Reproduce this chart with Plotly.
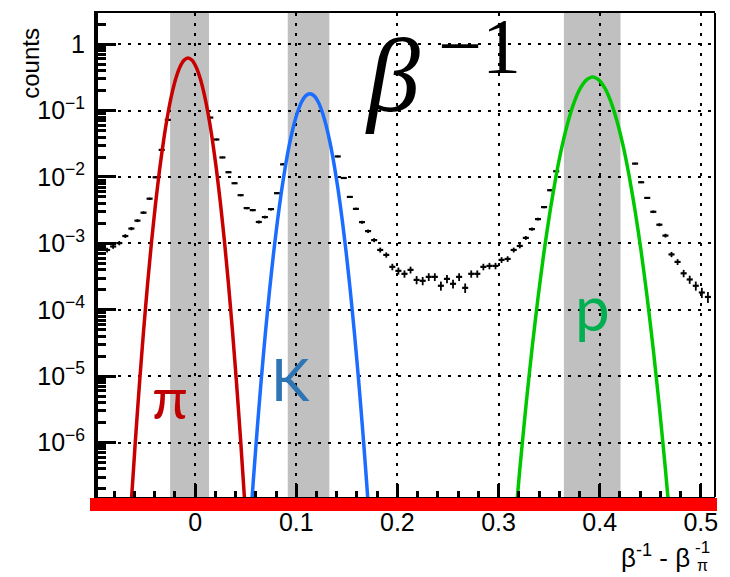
import plotly.graph_objects as go

# ---------------- data ----------------
# Gaussian fit curves
pi_fit_x = [-0.063, -0.059, -0.055, -0.051, -0.047, -0.043, -0.039, -0.035, -0.031, -0.027,
            -0.023, -0.019, -0.015, -0.011, -0.007, -0.003, 0.001, 0.005, 0.009, 0.013,
            0.017, 0.021, 0.025, 0.029, 0.033, 0.037, 0.041, 0.045, 0.049]
pi_fit_y = [1.31e-7, 1.09e-6, 7.71e-6, 4.69e-5, 2.43e-4, 1.08e-3, 4.09e-3, 1.33e-2, 3.68e-2, 8.73e-2,
            0.177, 0.306, 0.453, 0.573, 0.62, 0.573, 0.453, 0.306, 0.177, 8.73e-2,
            3.68e-2, 1.33e-2, 4.09e-3, 1.08e-3, 2.43e-4, 4.69e-5, 7.71e-6, 1.09e-6, 1.31e-7]

k_fit_x = [0.0535, 0.0575, 0.0615, 0.0655, 0.0695, 0.0735, 0.0775, 0.0815, 0.0855, 0.0895,
           0.0935, 0.0975, 0.1015, 0.1055, 0.1095, 0.1135, 0.1175, 0.1215, 0.1255, 0.1295,
           0.1335, 0.1375, 0.1415, 0.1455, 0.1495, 0.1535, 0.1575, 0.1615, 0.1655, 0.1695, 0.1735]
k_fit_y = [3.57e-8, 2.61e-7, 1.66e-6, 9.25e-6, 4.48e-5, 1.89e-4, 6.95e-4, 2.23e-3, 6.24e-3, 1.524e-2,
           3.24e-2, 6.00e-2, 9.70e-2, 0.137, 0.168, 0.180, 0.168, 0.137, 9.70e-2, 6.00e-2,
           3.24e-2, 1.524e-2, 6.24e-3, 2.23e-3, 6.95e-4, 1.89e-4, 4.48e-5, 9.25e-6, 1.66e-6, 2.61e-7, 3.57e-8]

p_fit_x = [0.315, 0.321, 0.327, 0.333, 0.339, 0.345, 0.351, 0.357, 0.363, 0.369,
           0.375, 0.381, 0.387, 0.393, 0.399, 0.405, 0.411, 0.417, 0.423, 0.429,
           0.435, 0.441, 0.447, 0.453, 0.459, 0.465, 0.471]
p_fit_y = [3.69e-8, 3.93e-7, 3.45e-6, 2.51e-5, 1.51e-4, 7.55e-4, 3.11e-3, 1.064e-2, 3.01e-2, 7.05e-2,
           0.1366, 0.219, 0.291, 0.320, 0.291, 0.219, 0.1366, 7.05e-2, 3.01e-2, 1.064e-2,
           3.11e-3, 7.55e-4, 1.51e-4, 2.51e-5, 3.45e-6, 3.93e-7, 3.69e-8]

# histogram points visible outside the fitted peaks
data_x = [-0.087, -0.081, -0.075, -0.069, -0.063, -0.057, -0.051, -0.045, -0.039, -0.033, -0.027,
          0.015, 0.021, 0.027, 0.033, 0.039, 0.045, 0.051, 0.057, 0.063, 0.069, 0.075, 0.081, 0.087,
          0.141, 0.147, 0.153, 0.159, 0.165, 0.171, 0.177, 0.183, 0.189, 0.195,
          0.201, 0.207, 0.213, 0.219, 0.225, 0.231, 0.237, 0.243, 0.249, 0.255,
          0.261, 0.267, 0.273, 0.279, 0.285, 0.291, 0.297, 0.303, 0.309, 0.315,
          0.321, 0.327, 0.333, 0.339, 0.345, 0.351, 0.357,
          0.435, 0.441, 0.447, 0.453, 0.459, 0.465, 0.471, 0.477, 0.483, 0.489, 0.495, 0.501, 0.507]
data_y = [7.96e-4, 8.99e-4, 1.01e-3, 1.29e-3, 1.67e-3, 2.20e-3, 2.90e-3, 4.71e-3, 9.90e-3, 2.56e-2, 7.26e-2,
          7.85e-2, 3.67e-2, 1.97e-2, 1.18e-2, 8.05e-3, 5.32e-3, 3.40e-3, 3.17e-3, 2.10e-3, 2.49e-3, 3.28e-3, 5.70e-3, 1.55e-2,
          2.04e-2, 9.66e-3, 5.01e-3, 3.31e-3, 2.09e-3, 1.53e-3, 1.12e-3, 7.96e-4, 6.70e-4, 4.43e-4,
          3.86e-4, 3.48e-4, 3.99e-4, 2.82e-4, 2.73e-4, 3.13e-4, 3.13e-4, 2.30e-4, 2.92e-4, 2.46e-4,
          3.13e-4, 2.14e-4, 3.48e-4, 3.48e-4, 4.43e-4, 4.58e-4, 4.58e-4, 5.64e-4, 5.83e-4, 7.96e-4,
          9.14e-4, 1.21e-3, 1.64e-3, 2.32e-3, 3.52e-3, 6.32e-3, 1.22e-2,
          1.59e-2, 8.33e-3, 4.84e-3, 2.99e-3, 1.91e-3, 1.31e-3, 6.82e-4, 5.26e-4, 3.54e-4, 2.86e-4, 2.30e-4, 1.82e-4, 1.56e-4]
data_err = [6.7e-5, 7.1e-5, 7.5e-5, 8.5e-5, 9.7e-5, 1.1e-4, 1.3e-4, 1.6e-4, 2.4e-4, 3.8e-4, 6.4e-4,
            6.6e-4, 4.5e-4, 3.3e-4, 2.6e-4, 2.1e-4, 1.7e-4, 1.4e-4, 1.3e-4, 1.1e-4, 1.2e-4, 1.4e-4, 1.8e-4, 3.0e-4,
            3.4e-4, 2.3e-4, 1.7e-4, 1.4e-4, 1.1e-4, 9.3e-5, 7.9e-5, 6.7e-5, 6.1e-5, 5.0e-5,
            4.7e-5, 4.4e-5, 4.7e-5, 4.0e-5, 3.9e-5, 4.2e-5, 4.2e-5, 3.6e-5, 4.1e-5, 3.7e-5,
            4.2e-5, 3.5e-5, 4.4e-5, 4.4e-5, 5.0e-5, 5.1e-5, 5.1e-5, 5.6e-5, 5.7e-5, 6.7e-5,
            7.2e-5, 8.2e-5, 9.6e-5, 1.1e-4, 1.4e-4, 1.9e-4, 2.6e-4,
            3.0e-4, 2.2e-4, 1.6e-4, 1.3e-4, 1.0e-4, 8.6e-5, 6.2e-5, 5.4e-5, 4.5e-5, 4.0e-5, 3.6e-5, 3.2e-5, 3.0e-5]
bin_half_width = 0.003

# selection windows (gray bands)
band_lo = [-0.0247, 0.0916, 0.3646]
band_hi = [0.0138, 0.1327, 0.4206]

# axis ticks
x_tickvals = [0, 0.1, 0.2, 0.3, 0.4, 0.5]
x_ticktext = ["0", "0.1", "0.2", "0.3", "0.4", "0.5"]
y_tickvals = [1, 1e-1, 1e-2, 1e-3, 1e-4, 1e-5, 1e-6]
y_ticktext = ["1", "10<sup>\u22121</sup>", "10<sup>\u22122</sup>", "10<sup>\u22123</sup>",
              "10<sup>\u22124</sup>", "10<sup>\u22125</sup>", "10<sup>\u22126</sup>"]

species = ["\u03c0", "K", "p"]

# ---------------- figure ----------------
W, H = 730, 577
L, R, T, B = 98, 15, 11, 80


def px(xp):
    return (xp - L) / (W - L - R)


def py(yp):
    return (H - B - yp) / (H - T - B)


fig = go.Figure()

fig.add_trace(go.Scatter(
    x=data_x, y=data_y, mode="markers",
    marker=dict(size=2, color="black"),
    error_x=dict(type="constant", value=bin_half_width, thickness=2.2, width=0, color="black"),
    error_y=dict(type="data", array=data_err, thickness=1.8, width=0, color="black"),
    showlegend=False, hoverinfo="skip"))

for fx, fy, col in [(pi_fit_x, pi_fit_y, "#c80000"),
                    (k_fit_x, k_fit_y, "#1a6dff"),
                    (p_fit_x, p_fit_y, "#00c800")]:
    fig.add_trace(go.Scatter(x=fx, y=fy, mode="lines",
                             line=dict(color=col, width=3.5, shape="spline", smoothing=0.6),
                             showlegend=False, hoverinfo="skip"))

shapes = []
for lo, hi in zip(band_lo, band_hi):
    shapes.append(dict(type="rect", xref="x", yref="paper", x0=lo, x1=hi, y0=0, y1=1,
                       fillcolor="#c0c0c0", line=dict(width=0), layer="below"))
# right frame line
shapes.append(dict(type="line", xref="paper", yref="paper", x0=1, x1=1, y0=0, y1=1,
                   line=dict(color="black", width=2), layer="above"))
# red bar at the bottom
shapes.append(dict(type="rect", xref="paper", yref="paper", x0=px(90), x1=px(717),
                   y0=py(511), y1=py(498), fillcolor="#ff0000", line=dict(width=0), layer="above"))

annotations = [
    dict(text="<i>\u03b2</i>", x=px(392), y=py(74), xref="paper", yref="paper",
         showarrow=False, font=dict(family="Liberation Serif", size=106, color="black"),
         xanchor="center", yanchor="middle"),
    dict(text="\u22121", x=px(479), y=py(44), xref="paper", yref="paper",
         showarrow=False, font=dict(family="Liberation Serif", size=78, color="black"),
         xanchor="center", yanchor="middle"),
    dict(text=species[0], x=px(170), y=py(396), xref="paper", yref="paper",
         showarrow=False, font=dict(family="Lato", size=58, color="#c00000"),
         xanchor="center", yanchor="middle"),
    dict(text=species[1], x=px(290), y=py(378), xref="paper", yref="paper",
         showarrow=False, font=dict(family="Lato", size=58, color="#2e75b6"),
         xanchor="center", yanchor="middle"),
    dict(text=species[2], x=px(592), y=py(306), xref="paper", yref="paper",
         showarrow=False, font=dict(family="Lato", size=62, color="#00b050"),
         xanchor="center", yanchor="middle"),
    dict(text="counts", x=px(31), y=py(62), xref="paper", yref="paper", textangle=-90,
         showarrow=False, font=dict(family="Liberation Sans", size=24, color="black"),
         xanchor="center", yanchor="middle"),
    dict(text="\u03b2<sup>-1</sup> - \u03b2", x=px(692), y=py(557), xref="paper", yref="paper",
         showarrow=False, font=dict(family="Liberation Sans", size=26, color="black"),
         xanchor="right", yanchor="middle"),
    dict(text="-1", x=px(693), y=py(548), xref="paper", yref="paper",
         showarrow=False, font=dict(family="Liberation Sans", size=17, color="black"),
         xanchor="left", yanchor="middle"),
    dict(text="\u03c0", x=px(695), y=py(566), xref="paper", yref="paper",
         showarrow=False, font=dict(family="Liberation Sans", size=16, color="black"),
         xanchor="left", yanchor="middle"),
]

fig.update_layout(
    width=W, height=H,
    margin=dict(l=L, r=R, t=T, b=B, pad=0),
    paper_bgcolor="white", plot_bgcolor="white",
    shapes=shapes, annotations=annotations,
    showlegend=False,
    xaxis=dict(range=[-0.096, 0.514], tickvals=x_tickvals, ticktext=x_ticktext,
               ticks="inside", ticklen=13, tickwidth=2.5, tickcolor="black",
               minor=dict(dtick=0.02, ticks="inside", ticklen=6, tickwidth=2.5, tickcolor="black", showgrid=False),
               showgrid=True, gridcolor="black", gridwidth=2, griddash="3px,7px",
               showline=True, linecolor="black", linewidth=2, mirror=True,
               zeroline=False, tickfont=dict(family="Liberation Sans", size=25, color="black"),
               ticklabelstandoff=2),
    yaxis=dict(type="log", range=[-6.82, 0.47], tickvals=y_tickvals, ticktext=y_ticktext,
               ticks="inside", ticklen=18, tickwidth=3, tickcolor="black",
               minor=dict(tickvals=[m * 10 ** e for e in range(-7, 1) for m in range(2, 10)],
                          ticks="inside", ticklen=8, tickwidth=2.5, tickcolor="black", showgrid=False),
               showgrid=True, gridcolor="black", gridwidth=2, griddash="3px,7px",
               showline=True, linecolor="black", linewidth=4, mirror=False,
               zeroline=False, tickfont=dict(family="Liberation Sans", size=25, color="black"),
               ticklabelstandoff=4),
)

fig.write_html("out.html")
